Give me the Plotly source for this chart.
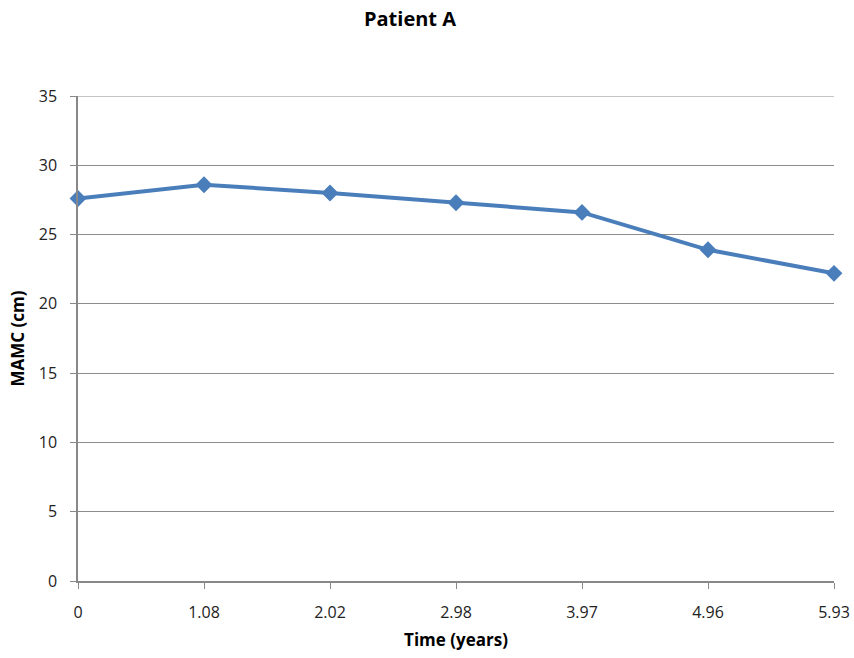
import plotly.graph_objects as go

time_labels = ["0", "1.08", "2.02", "2.98", "3.97", "4.96", "5.93"]
mamc_values = [27.6, 28.6, 28.0, 27.3, 26.6, 23.9, 22.2]
y_ticks = [0, 5, 10, 15, 20, 25, 30, 35]

font_family = "Open Sans, Noto Sans, sans-serif"

fig = go.Figure()
fig.add_trace(go.Scatter(
    x=time_labels, y=mamc_values, mode="lines+markers",
    line=dict(color="#4a7ebb", width=4),
    marker=dict(symbol="diamond", size=13, color="#4a7ebb"),
    showlegend=False, cliponaxis=False,
))

# top gridline at the range edge
fig.add_shape(type="line", xref="paper", yref="y", x0=0, x1=1, y0=y_ticks[-1], y1=y_ticks[-1],
              line=dict(color="#8c8c8c", width=1), layer="below")

fig.update_layout(
    width=854, height=658,
    margin=dict(l=78, r=20, t=96, b=77, autoexpand=False),
    paper_bgcolor="white", plot_bgcolor="white",
    font=dict(family=font_family, size=16, color="#222"),
    title=dict(text="<b>Patient A</b>", x=410/854, xanchor="center", xref="container", y=0.982, yanchor="top",
               font=dict(size=20, color="black")),
    xaxis=dict(
        type="category", range=[0, 6], automargin=False,
        showgrid=False, showline=True, linecolor="#888", linewidth=1.5,
        ticks="outside", ticklen=6, tickcolor="#888",
        tickfont=dict(size=16, color="#222"), ticklabelstandoff=10,
        title=dict(text="<b>Time (years)</b>", font=dict(size=17, color="black"), standoff=12),
    ),
    yaxis=dict(
        range=[0, 35], tickvals=y_ticks, automargin=False,
        showgrid=True, gridcolor="#8c8c8c", gridwidth=1,
        showline=True, linecolor="#888", linewidth=1.5,
        ticks="outside", ticklen=6, tickcolor="#888",
        tickfont=dict(size=16, color="#222"), zeroline=False, ticklabelstandoff=10,
        title=dict(text="<b>MAMC (cm)</b>", font=dict(size=17, color="black"), standoff=10),
    ),
)

fig.write_html("out.html")
